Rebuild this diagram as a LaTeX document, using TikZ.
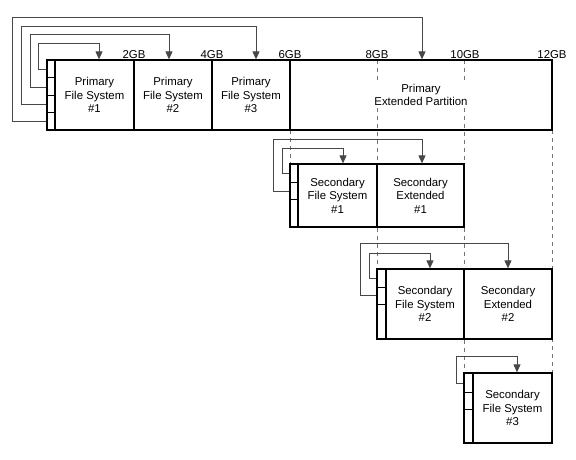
\documentclass[tikz,border=0pt]{standalone}
\usepackage{fontspec}
\setmainfont{Liberation Sans}
\usetikzlibrary{arrows.meta}
\newcommand{\lblfont}{\fontsize{11.4pt}{13.5pt}\selectfont}
\tikzset{
  box/.style={draw, line width=1.3pt, inner sep=0pt, align=center, font=\lblfont},
  strip/.style={draw, line width=1.3pt, inner sep=0pt},
  tick/.style={line width=0.8pt},
  link/.style={draw=black!72, line width=0.9pt, -{Triangle[length=8pt,width=7pt]}},
  guide/.style={draw=black!55, line width=0.8pt, dash pattern=on 4pt off 4pt},
  gb/.style={font=\lblfont, anchor=base, inner sep=0pt},
  cover/.style={fill=white, inner sep=2pt, align=center, font=\lblfont}
}
\begin{document}
\begin{tikzpicture}[x=1pt,y=-1pt]
\useasboundingbox (0,0) rectangle (576,459);
\fill[white] (0,0) rectangle (576,459);
% guide lines
\coordinate (g6a) at (290,130); \coordinate (g6b) at (290,164);
\coordinate (g8a) at (377,60);  \coordinate (g8b) at (377,269);
\coordinate (g10a) at (464,60); \coordinate (g10b) at (464,373);
\coordinate (g12a) at (552,130); \coordinate (g12b) at (552,373);
\draw[guide] (g6a) -- (g6b);
\draw[guide] (g8a) -- (g8b);
\draw[guide] (g10a) -- (g10b);
\draw[guide] (g12a) -- (g12b);
% primary row
\node[strip, minimum width=8pt, minimum height=70pt] (ps) at (51,95) {};
\node[box, minimum width=79pt, minimum height=70pt] (p1) at (94.5,95) {Primary\\File System\\\#1};
\node[box, minimum width=78pt, minimum height=70pt] (p2) at (173,95) {Primary\\File System\\\#2};
\node[box, minimum width=78pt, minimum height=70pt] (p3) at (251,95) {Primary\\File System\\\#3};
\node[box, minimum width=262pt, minimum height=70pt] (pe) at (421,95) {};
\node[cover] (pet) at (pe.center) {Primary\\Extended Partition};
\foreach \y in {77.5,95,112.5} \draw[tick] (ps.west |- 0,\y) -- (ps.east |- 0,\y);
% secondary 1
\node[strip, minimum width=8pt, minimum height=63pt] (s1s) at (294,195.5) {};
\node[box, minimum width=79pt, minimum height=63pt] (s1) at (337.5,195.5) {Secondary\\File System\\\#1};
\node[box, minimum width=87pt, minimum height=63pt] (s1e) at (420.5,195.5) {Secondary\\Extended\\\#1};
\foreach \y in {182,199} \draw[tick] (s1s.west |- 0,\y) -- (s1s.east |- 0,\y);
% secondary 2
\node[strip, minimum width=9pt, minimum height=70pt] (s2s) at (381.5,304) {};
\node[box, minimum width=78pt, minimum height=70pt] (s2) at (425,304) {Secondary\\File System\\\#2};
\node[box, minimum width=88pt, minimum height=70pt] (s2e) at (508,304) {Secondary\\Extended\\\#2};
\foreach \y in {287,304} \draw[tick] (s2s.west |- 0,\y) -- (s2s.east |- 0,\y);
% secondary 3
\node[strip, minimum width=9pt, minimum height=70pt] (s3s) at (468.5,408) {};
\node[box, minimum width=79pt, minimum height=70pt] (s3) at (512.5,408) {Secondary\\File System\\\#3};
\foreach \y in {392,409} \draw[tick] (s3s.west |- 0,\y) -- (s3s.east |- 0,\y);
% size labels
\node[gb] (l2) at (134,58) {2GB};
\node[gb] (l4) at (212,58) {4GB};
\node[gb] (l6) at (290,58) {6GB};
\node[gb] (l8) at (377,58) {8GB};
\node[gb] (l10) at (465,58) {10GB};
\node[gb] (l12) at (552,58) {12GB};
% primary links
\draw[link] (ps.west |- 0,69) -| (38,43) -| (p1.north -| 99,0);
\draw[link] (ps.west |- 0,87) -| (30,34) -| (p2.north -| 169,0);
\draw[link] (ps.west |- 0,104) -| (21,26) -| (p3.north -| 256,0);
\draw[link] (ps.west |- 0,121) -| (12,17) -| (pe.north -| 422,0);
% secondary 1 links
\draw[link] (s1s.west |- 0,173) -| (282,148) -| (s1.north -| 343,0);
\draw[link] (s1s.west |- 0,191) -| (273,139) -| (s1e.north -| 422,0);
% secondary 2 links
\draw[link] (s2s.west |- 0,278) -| (369,253) -| (s2.north -| 430,0);
\draw[link] (s2s.west |- 0,295) -| (360,243) -| (s2e.north -| 508,0);
% secondary 3 link
\draw[link] (s3s.west |- 0,383) -| (456,356) -| (s3.north -| 517,0);
\end{tikzpicture}
\end{document}
